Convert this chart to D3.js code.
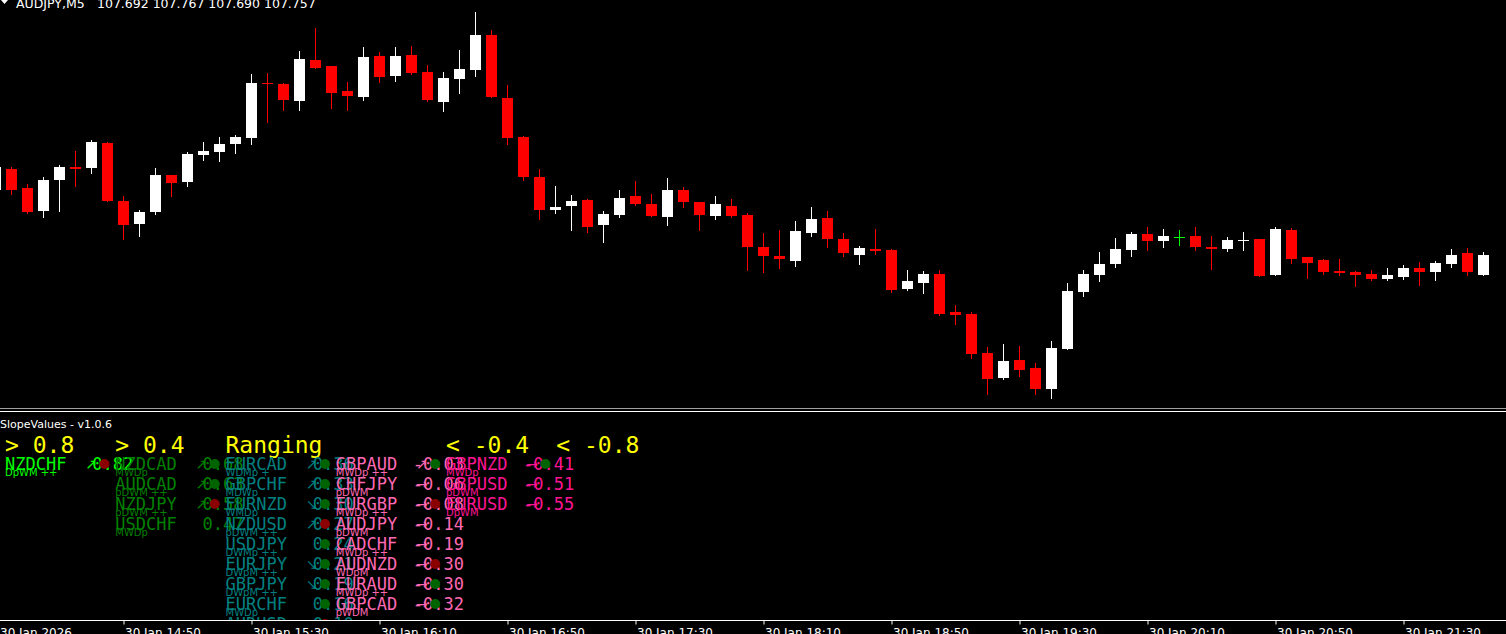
<!DOCTYPE html>
<html><head><meta charset="utf-8">
<script src="https://cdn.jsdelivr.net/npm/d3@7"></script>
<style>
html,body{margin:0;padding:0;background:#000;overflow:hidden}
svg{display:block}
</style></head>
<body>
<script>
// ---------- price data (AUDJPY, M5), bar index -1 .. 92 ----------
const barIndex = d3.range(-1, 93);
const opens = [107.974,108.044,107.980,107.904,108.007,108.050,108.047,108.130,107.937,107.860,107.900,108.024,108.000,108.090,108.100,108.127,
108.147,108.330,108.327,108.270,108.407,108.387,108.304,108.284,108.420,108.354,108.424,108.367,108.267,108.344,108.374,108.490,
108.280,108.150,108.017,107.907,107.920,107.940,107.857,107.890,107.954,107.927,107.884,107.974,107.934,107.887,107.920,107.890,
107.784,107.754,107.737,107.830,107.880,107.810,107.757,107.777,107.774,107.644,107.664,107.694,107.567,107.560,107.430,107.347,
107.407,107.380,107.310,107.444,107.634,107.690,107.727,107.774,107.827,107.804,107.817,107.820,107.784,107.777,107.806,107.810,
107.690,107.840,107.750,107.740,107.704,107.700,107.694,107.677,107.684,107.714,107.700,107.727,107.764,107.692];
const highs = [108.057,108.050,107.994,108.017,108.057,108.104,108.140,108.134,107.954,107.907,108.047,108.024,108.100,108.134,108.150,108.157,
108.360,108.364,108.330,108.437,108.514,108.387,108.334,108.450,108.434,108.450,108.454,108.390,108.367,108.440,108.567,108.507,
108.324,108.154,108.044,107.987,107.957,107.944,107.904,107.974,108.004,107.960,108.014,107.984,107.934,107.954,107.944,107.897,
107.830,107.840,107.870,107.917,107.904,107.830,107.787,107.844,107.777,107.707,107.704,107.707,107.590,107.567,107.450,107.460,
107.454,107.397,107.470,107.664,107.707,107.767,107.814,107.834,107.850,107.844,107.840,107.850,107.820,107.817,107.834,107.810,
107.850,107.847,107.750,107.744,107.744,107.704,107.707,107.714,107.724,107.734,107.737,107.777,107.780,107.767];
const lows = [107.967,107.960,107.897,107.884,107.904,107.987,108.030,107.937,107.810,107.820,107.894,107.954,107.987,108.074,108.070,108.097,
108.127,108.200,108.240,108.240,108.380,108.247,108.240,108.274,108.334,108.337,108.360,108.270,108.237,108.297,108.354,108.284,
108.127,108.007,107.877,107.897,107.840,107.834,107.800,107.884,107.924,107.887,107.857,107.917,107.840,107.877,107.884,107.707,
107.700,107.714,107.720,107.820,107.784,107.754,107.727,107.760,107.634,107.640,107.630,107.557,107.527,107.414,107.294,107.344,
107.354,107.294,107.280,107.444,107.620,107.670,107.717,107.754,107.774,107.784,107.790,107.774,107.710,107.770,107.774,107.687,
107.690,107.730,107.680,107.694,107.690,107.654,107.674,107.674,107.677,107.657,107.674,107.717,107.690,107.690];
const closes = [108.050,107.974,107.900,108.007,108.050,108.044,108.134,107.937,107.857,107.900,108.024,107.997,108.094,108.104,108.127,108.150,
108.330,108.327,108.274,108.410,108.380,108.297,108.287,108.417,108.350,108.420,108.364,108.274,108.347,108.377,108.490,108.284,
108.147,108.017,107.907,107.917,107.937,107.850,107.894,107.947,107.927,107.887,107.974,107.934,107.890,107.927,107.887,107.784,
107.754,107.744,107.837,107.877,107.810,107.764,107.780,107.770,107.640,107.670,107.694,107.560,107.557,107.427,107.344,107.404,
107.374,107.310,107.447,107.637,107.694,107.727,107.777,107.827,107.804,107.820,107.817,107.784,107.777,107.807,107.807,107.687,
107.844,107.744,107.730,107.700,107.697,107.690,107.677,107.690,107.714,107.700,107.730,107.757,107.700,107.757];

// ---------- time axis ----------
const tickBars = [7, 15, 23, 31, 39, 47, 55, 63, 71, 79, 87];
const tickLabels = ["30 Jan 14:50","30 Jan 15:30","30 Jan 16:10","30 Jan 16:50","30 Jan 17:30","30 Jan 18:10",
  "30 Jan 18:50","30 Jan 19:30","30 Jan 20:10","30 Jan 20:50","30 Jan 21:30"];
const firstLabel = "30 Jan 2026";
const titleSymbol = "AUDJPY,M5";
const titleOHLC = "107.692 107.767 107.690 107.757";
const indicatorTitle = "SlopeValues - v1.0.6";

// ---------- SlopeValues indicator ----------
const headers = ["> 0.8", "> 0.4", "Ranging", "", "< -0.4", "< -0.8"];
const col1Pairs = ["NZDCHF"];
const col1Values = [0.82];
const col1Tags = ["DpWM ++"];
const col1Arrows = ["↗"];
const col1Dots = ["down"];
const col2Pairs = ["NZDCAD","AUDCAD","NZDJPY","USDCHF"];
const col2Values = [0.68, 0.63, 0.58, 0.47];
const col2Tags = ["MWDp","pDWM ++","pDWM ++","MWDp"];
const col2Arrows = ["↗","↗","↗",""];
const col2Dots = ["up","up","down",""];
const col3Pairs = ["EURCAD","GBPCHF","EURNZD","NZDUSD","USDJPY","EURJPY","GBPJPY","EURCHF","AUDUSD"];
const col3Values = [0.36, 0.33, 0.30, 0.27, 0.24, 0.21, 0.19, 0.16, 0.10];
const col3Tags = ["WDMp +","MDWp","WMDp","pDWM ++","DWMp ++","DWpM ++","DWpM ++","MWDp","pDWM"];
const col3Arrows = ["↗","↗","↘","↗","","↘","↘","",""];
const col3Dots = ["up","up","up","down","up","up","up","up","down"];
const col4Pairs = ["GBPAUD","CHFJPY","EURGBP","AUDJPY","CADCHF","AUDNZD","EURAUD","GBPCAD"];
const col4Values = [-0.03, -0.06, -0.08, -0.14, -0.19, -0.30, -0.30, -0.32];
const col4Tags = ["MWDp ++","pDWM","MWDp ++","pDWM","MWDp ++","WDpM","MWDp ++","pWDM"];
const col4Arrows = ["↗","→","→","→","→","→","→","→"];
const col4Dots = ["up","","down","","","down","up","up"];
const col5Pairs = ["GBPNZD","GBPUSD","EURUSD"];
const col5Values = [-0.41, -0.51, -0.55];
const col5Tags = ["MWDp","pDWM","DpWM"];
const col5Arrows = ["→","→","→"];
const col5Dots = ["up","",""];
const columnColors = ["#00ff00","#008000","#008080","#ff69b4","#ff1493"];

// ---------- drawing ----------
const W = 1506, H = 634;
const svg = d3.select("body").append("svg").attr("width", W).attr("height", H)
  .style("background", "#000");

const x = d3.scaleLinear().domain([-1, 92]).range([-5, 1483]);
const y = d3.scaleLinear().domain([107.257, 108.607]).range([405, 0]);

const bars = barIndex.map((b, k) => ({b, o: opens[k], h: highs[k], l: lows[k], c: closes[k]}));
const colorOf = d => d.c > d.o ? "#ffffff" : (d.c < d.o ? "#ff0000" : "#00ff00");

const main = svg.append("g");
main.selectAll("rect.wick").data(bars).join("rect").attr("class","wick")
  .attr("x", d => Math.round(x(d.b)))
  .attr("width", 1)
  .attr("y", d => Math.round(y(d.h)))
  .attr("height", d => Math.round(y(d.l)) - Math.round(y(d.h)) + 1)
  .attr("fill", colorOf);
main.selectAll("rect.body").data(bars).join("rect").attr("class","body")
  .attr("x", d => Math.round(x(d.b)) - 5)
  .attr("width", 11)
  .attr("y", d => Math.round(y(Math.max(d.o, d.c))))
  .attr("height", d => Math.max(1, Math.round(y(Math.min(d.o, d.c))) - Math.round(y(Math.max(d.o, d.c)))))
  .attr("fill", colorOf);

// title
svg.append("path").attr("d", "M1,0 L8,0 L4.5,4 Z").attr("fill", "#fff");
svg.append("text").attr("x", 16).attr("y", 8).attr("fill", "#fff")
  .style("font", "12.5px 'DejaVu Sans'").text(titleSymbol);
svg.append("text").attr("x", 97).attr("y", 8).attr("fill", "#fff")
  .style("font", "12.5px 'DejaVu Sans'").text(titleOHLC);

// separator between main chart and indicator window
svg.append("rect").attr("x", 0).attr("y", 408).attr("width", W).attr("height", 1).attr("fill", "#a0a0a0");
svg.append("rect").attr("x", 0).attr("y", 411).attr("width", W).attr("height", 1).attr("fill", "#ffffff");

svg.append("text").attr("x", 0).attr("y", 428).attr("fill", "#fff")
  .style("font", "11px 'DejaVu Sans'").text(indicatorTitle);

// indicator
svg.append("clipPath").attr("id", "indClip").append("rect")
  .attr("x", 0).attr("y", 412).attr("width", W).attr("height", 208);
const ind = svg.append("g").attr("clip-path", "url(#indClip)");
const colX = d3.scaleLinear().domain([0, 5]).range([5, 556.25]);
const rowY = d3.scaleLinear().domain([0, 8]).range([470, 630]);
const charW = 17 * 0.6021;

ind.selectAll("text.hdr").data(headers).join("text").attr("class","hdr")
  .attr("x", (d, i) => colX(i)).attr("y", 453)
  .attr("fill", "#ffff00")
  .style("font", "23px 'DejaVu Sans Mono'")
  .text(d => d);

const columns = [
  [col1Pairs, col1Values, col1Tags, col1Arrows, col1Dots],
  [col2Pairs, col2Values, col2Tags, col2Arrows, col2Dots],
  [col3Pairs, col3Values, col3Tags, col3Arrows, col3Dots],
  [col4Pairs, col4Values, col4Tags, col4Arrows, col4Dots],
  [col5Pairs, col5Values, col5Tags, col5Arrows, col5Dots]
];
columns.forEach(([pairs, vals, tags, arrows, dots], ci) => {
  const cx = colX(ci), col = columnColors[ci];
  const g = ind.append("g");
  pairs.forEach((p, r) => {
    const by = rowY(r);
    g.append("text").attr("x", cx).attr("y", by).attr("fill", col)
      .style("font", "17px 'DejaVu Sans Mono'").text(p);
    g.append("text").attr("x", cx).attr("y", by + 6).attr("fill", col)
      .style("font", "10px 'DejaVu Sans'").text(tags[r]);
    g.append("text").attr("x", cx + 77 + 5 * charW).attr("y", by).attr("fill", col)
      .attr("text-anchor", "end")
      .style("font", "17px 'DejaVu Sans Mono'").text(vals[r].toFixed(2));
    if (arrows[r]) {
      g.append("text").attr("x", cx + 86).attr("y", by - 1).attr("fill", col)
        .attr("text-anchor", "middle")
        .style("font", "14px 'DejaVu Sans'").text(arrows[r]);
    }
    if (dots[r]) {
      g.append("circle").attr("cx", cx + 99.5).attr("cy", by - 6).attr("r", 5)
        .attr("fill", dots[r] === "up" ? "#006400" : "#8b0000");
    }
  });
});

// time axis
svg.append("rect").attr("x", 0).attr("y", 620).attr("width", W).attr("height", 1).attr("fill", "#fff");
const axis = d3.axisBottom(x).tickValues(tickBars)
  .tickFormat((d, i) => tickLabels[i]).tickSize(4).tickPadding(2);
const ax = svg.append("g").attr("transform", "translate(0.5,620.5)").call(axis);
ax.select(".domain").remove();
ax.selectAll(".tick line").attr("stroke", "#fff");
ax.selectAll(".tick text").attr("fill", "#fff").attr("text-anchor", "start")
  .attr("x", 1).attr("y", 0).attr("dy", "16.5px")
  .style("font", "12px 'DejaVu Sans'");
svg.append("text").attr("x", 0).attr("y", 637).attr("fill", "#fff")
  .style("font", "12px 'DejaVu Sans'").text(firstLabel);
</script>
</body></html>
